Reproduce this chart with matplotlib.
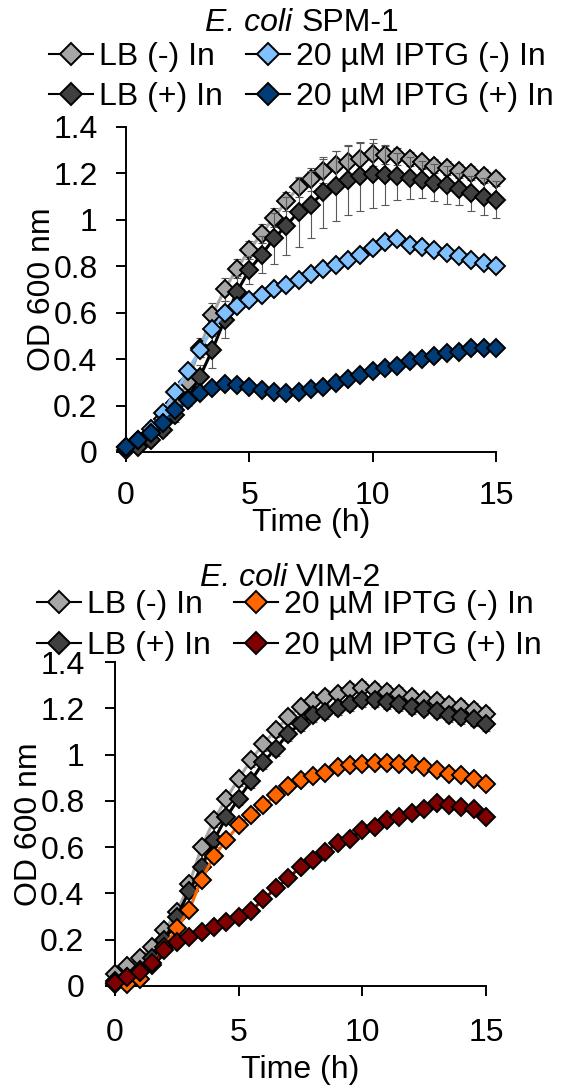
import matplotlib
matplotlib.use('Agg')
import matplotlib.pyplot as plt
from matplotlib.lines import Line2D
from matplotlib.ticker import FuncFormatter

plt.rcParams['font.family'] = ['Liberation Sans', 'DejaVu Sans']

############## Data ##############
time_h = [0, 0.5, 1, 1.5, 2, 2.5, 3, 3.5, 4, 4.5, 5, 5.5, 6, 6.5, 7, 7.5,
          8, 8.5, 9, 9.5, 10, 10.5, 11, 11.5, 12, 12.5, 13, 13.5, 14, 14.5, 15]

labels = ['LB (-) In', 'LB (+) In', '20 µM IPTG (-) In', '20 µM IPTG (+) In']

# E. coli SPM-1
spm_lb_minus = [0.02, 0.04, 0.08, 0.14, 0.21, 0.30, 0.45, 0.59, 0.70, 0.79, 0.87, 0.94, 1.01, 1.08, 1.14, 1.175,
                1.21, 1.237, 1.25, 1.26, 1.283, 1.28, 1.273, 1.26, 1.247, 1.233, 1.223, 1.21, 1.20, 1.19, 1.175]
spm_lb_minus_err = [0.01, 0.01, 0.01, 0.02, 0.02, 0.03, 0.04, 0.05, 0.05, 0.04, 0.04, 0.04, 0.04, 0.04, 0.04, 0.05,
                    0.05, 0.06, 0.066, 0.07, 0.05, 0.04, 0.035, 0.03, 0.03, 0.03, 0.03, 0.03, 0.03, 0.03, 0.03]
spm_lb_plus = [0.01, 0.02, 0.05, 0.095, 0.16, 0.23, 0.325, 0.44, 0.57, 0.69, 0.785, 0.85, 0.92, 0.975, 1.035, 1.065,
               1.118, 1.144, 1.172, 1.187, 1.198, 1.194, 1.187, 1.18, 1.172, 1.16, 1.15, 1.132, 1.115, 1.10, 1.086]
spm_lb_plus_err = [0.01, 0.01, 0.02, 0.02, 0.03, 0.03, 0.05, 0.08, 0.08, 0.07, 0.06, 0.08, 0.11, 0.125, 0.15, 0.145,
                   0.154, 0.151, 0.15, 0.147, 0.148, 0.13, 0.10, 0.09, 0.08, 0.08, 0.08, 0.07, 0.075, 0.08, 0.08]
spm_iptg_minus = [0.02, 0.05, 0.10, 0.17, 0.26, 0.35, 0.44, 0.53, 0.60, 0.63, 0.655, 0.677, 0.70, 0.72, 0.74, 0.767,
                  0.787, 0.806, 0.828, 0.849, 0.878, 0.906, 0.917, 0.892, 0.882, 0.868, 0.856, 0.845, 0.828, 0.816, 0.80]
spm_iptg_minus_err = [0.01, 0.01, 0.01, 0.02, 0.02, 0.02, 0.03, 0.03, 0.02, 0.02, 0.02, 0.02, 0.02, 0.02, 0.02, 0.02,
                      0.02, 0.02, 0.02, 0.02, 0.02, 0.02, 0.02, 0.02, 0.02, 0.02, 0.02, 0.02, 0.02, 0.02, 0.02]
spm_iptg_plus = [0.02, 0.05, 0.08, 0.124, 0.18, 0.224, 0.254, 0.275, 0.293, 0.29, 0.28, 0.267, 0.26, 0.256, 0.26, 0.27,
                 0.28, 0.296, 0.313, 0.33, 0.35, 0.36, 0.37, 0.39, 0.40, 0.414, 0.425, 0.432, 0.447, 0.447, 0.45]
spm_iptg_plus_err = [0.01, 0.01, 0.01, 0.015, 0.015, 0.015, 0.015, 0.015, 0.015, 0.015, 0.015, 0.015, 0.015, 0.015,
                     0.015, 0.015, 0.02, 0.02, 0.02, 0.02, 0.02, 0.02, 0.02, 0.02, 0.02, 0.02, 0.02, 0.02, 0.02,
                     0.02, 0.02]

# E. coli VIM-2
vim_lb_minus = [0.05, 0.085, 0.12, 0.17, 0.24, 0.32, 0.44, 0.60, 0.717, 0.81, 0.896, 0.976, 1.047, 1.105, 1.163, 1.206,
                1.232, 1.249, 1.263, 1.278, 1.289, 1.28, 1.27, 1.263, 1.249, 1.237, 1.23, 1.213, 1.206, 1.194, 1.177]
vim_lb_minus_err = [0.02, 0.02, 0.02, 0.02, 0.02, 0.02, 0.03, 0.03, 0.03, 0.03, 0.03, 0.03, 0.03, 0.03, 0.03, 0.03,
                    0.03, 0.03, 0.03, 0.03, 0.03, 0.03, 0.03, 0.03, 0.03, 0.03, 0.03, 0.03, 0.03, 0.03, 0.03]
vim_lb_plus = [0.02, 0.04, 0.07, 0.12, 0.20, 0.30, 0.41, 0.515, 0.63, 0.73, 0.81, 0.886, 0.968, 1.026, 1.09, 1.134,
               1.17, 1.184, 1.203, 1.22, 1.235, 1.235, 1.227, 1.22, 1.206, 1.199, 1.19, 1.17, 1.163, 1.155, 1.134]
vim_lb_plus_err = [0.02, 0.02, 0.02, 0.02, 0.02, 0.02, 0.03, 0.03, 0.03, 0.03, 0.03, 0.03, 0.03, 0.03, 0.03, 0.03,
                   0.03, 0.03, 0.03, 0.03, 0.03, 0.03, 0.03, 0.03, 0.03, 0.03, 0.03, 0.03, 0.03, 0.03, 0.03]
vim_iptg_minus = [0.01, 0.01, 0.03, 0.09, 0.17, 0.25, 0.33, 0.46, 0.561, 0.63, 0.695, 0.738, 0.781, 0.824, 0.863, 0.889,
                  0.906, 0.921, 0.947, 0.954, 0.961, 0.964, 0.964, 0.961, 0.958, 0.947, 0.932, 0.918, 0.911, 0.896, 0.875]
vim_iptg_minus_err = [0.01, 0.01, 0.01, 0.02, 0.02, 0.02, 0.02, 0.02, 0.02, 0.02, 0.02, 0.02, 0.02, 0.02, 0.02, 0.02,
                      0.02, 0.02, 0.02, 0.02, 0.02, 0.02, 0.02, 0.02, 0.02, 0.02, 0.02, 0.02, 0.02, 0.02, 0.02]
vim_iptg_plus = [0.012, 0.04, 0.062, 0.098, 0.155, 0.191, 0.213, 0.232, 0.253, 0.278, 0.30, 0.325, 0.374, 0.422, 0.465,
                 0.515, 0.544, 0.58, 0.616, 0.637, 0.673, 0.688, 0.717, 0.731, 0.748, 0.763, 0.791, 0.781, 0.774,
                 0.763, 0.731]
vim_iptg_plus_err = [0.01, 0.01, 0.01, 0.01, 0.01, 0.01, 0.01, 0.01, 0.01, 0.01, 0.01, 0.01, 0.01, 0.01, 0.01, 0.01,
                     0.01, 0.01, 0.01, 0.01, 0.01, 0.01, 0.01, 0.01, 0.01, 0.01, 0.01, 0.01, 0.01, 0.01, 0.01]
##################################

# marker face / connecting line colours, in legend order
spm_faces = ['#A6A6A6', '#404040', '#80C0FF', '#003C78']
spm_lines = ['#A6A6A6', '#000000', '#80C0FF', '#003C78']
vim_faces = ['#A6A6A6', '#404040', '#FF6600', '#7F0000']
vim_lines = ['#A6A6A6', '#000000', '#FF6600', '#7F0000']

FS = 23
MS = 9.5


def draw_panel(ax, means, errs, faces, lines, tick_pad_y, tick_pad_x):
    for i in range(4):
        ax.errorbar(time_h, means[i], yerr=errs[i], fmt='none', ecolor='#595959',
                    elinewidth=0.8, capsize=2.8, capthick=0.8, zorder=2 + 2 * i, clip_on=False)
        ax.plot(time_h, means[i], '-D', color=lines[i], mfc=faces[i], mec='black',
                ms=MS, mew=1.4, lw=2.2, zorder=3 + 2 * i, clip_on=False)

    ax.set_xlim(0, 15)
    ax.set_ylim(0, 1.4)
    ax.set_xticks([0, 5, 10, 15])
    ax.set_yticks([0, 0.2, 0.4, 0.6, 0.8, 1.0, 1.2, 1.4])
    ax.yaxis.set_major_formatter(FuncFormatter(lambda v, p: f'{v:g}'))
    ax.spines['top'].set_visible(False)
    ax.spines['right'].set_visible(False)
    for s in ['left', 'bottom']:
        ax.spines[s].set_linewidth(1.4)
    ax.tick_params(axis='both', direction='out', length=7.5, width=1.4, labelsize=FS)
    ax.tick_params(axis='y', pad=tick_pad_y)
    ax.tick_params(axis='x', pad=tick_pad_x)
    ax.set_ylabel('OD 600 nm', fontsize=FS)
    ax.set_xlabel('Time (h)', fontsize=FS, va='top')


def add_legend(fig, faces, center, spacing):
    # legend handles use a thin black line through the diamond
    handles = [Line2D([], [], color='black', lw=1.5, marker='D', mfc=f, mec='black', ms=MS * 1.15, mew=1.4)
               for f in faces]
    fig.legend(handles, labels, loc='center', bbox_to_anchor=center,
               ncol=2, frameon=False, fontsize=FS, handlelength=1.375, handletextpad=0.19,
               columnspacing=0.72, labelspacing=spacing, borderpad=0, borderaxespad=0)


def add_title(fig, x_split, y, strain):
    # italic genus/species, then the strain name in upright type
    fig.text(x_split, y, 'E. coli', fontsize=FS, style='italic', ha='right', va='center')
    fig.text(x_split + 0.016, y, strain, fontsize=FS, ha='left', va='center')


fig = plt.figure(figsize=(5.66, 10.86), dpi=100)

# top panel: SPM-1
ax1 = fig.add_axes([0.2226, 0.5838, 0.6537, 0.2993])
draw_panel(ax1,
           [spm_lb_minus, spm_lb_plus, spm_iptg_minus, spm_iptg_plus],
           [spm_lb_minus_err, spm_lb_plus_err, spm_iptg_minus_err, spm_iptg_plus_err],
           spm_faces, spm_lines, 13, 13.5)
ax1.yaxis.set_label_coords(-0.186, 0.5)
ax1.xaxis.set_label_coords(0.5, -0.172)
add_title(fig, 0.5159, 0.9784, 'SPM-1')
add_legend(fig, spm_faces, (0.532, 0.9290), 0.3)

# bottom panel: VIM-2
ax2 = fig.add_axes([0.2032, 0.0921, 0.6555, 0.2983])
draw_panel(ax2,
           [vim_lb_minus, vim_lb_plus, vim_iptg_minus, vim_iptg_plus],
           [vim_lb_minus_err, vim_lb_plus_err, vim_iptg_minus_err, vim_iptg_plus_err],
           vim_faces, vim_lines, 14.4, 15.5)
ax2.yaxis.set_label_coords(-0.191, 0.5)
ax2.xaxis.set_label_coords(0.5, -0.212)
add_title(fig, 0.5071, 0.4678, 'VIM-2')
add_legend(fig, vim_faces, (0.512, 0.4240), 0.33)

fig.savefig('out.png', dpi=100)
